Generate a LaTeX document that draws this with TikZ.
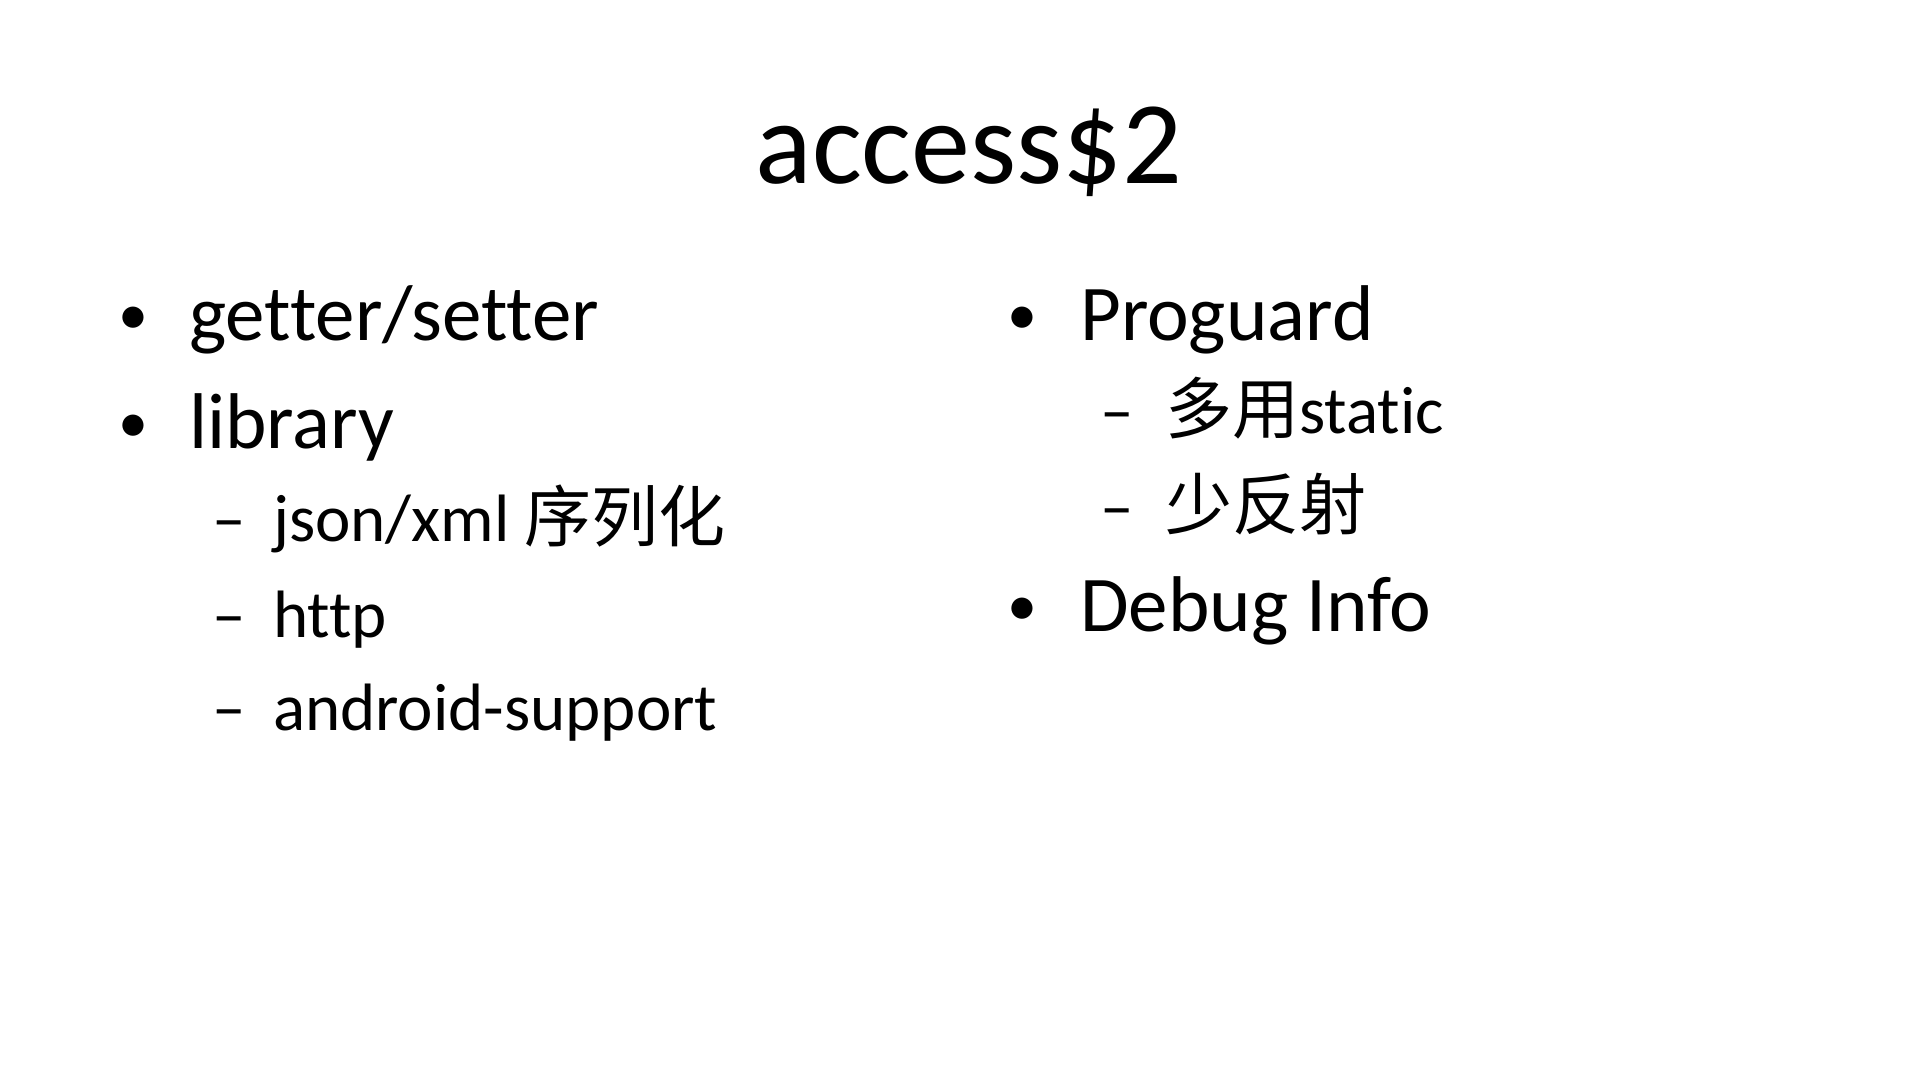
\documentclass[tikz,border=0pt]{standalone}
\usepackage{fontspec}
\setmainfont{Carlito}[Ligatures=NoCommon]
\newfontfamily\cjk{Noto Sans CJK SC}
\begin{document}
\begin{tikzpicture}[x=1pt,y=1pt,
  every node/.style={inner sep=0pt,anchor=base west},
  lvone/.style={font=\fontsize{79}{90}\selectfont},
  bul/.style={font=\fontsize{60}{70}\selectfont},
  lvtwo/.style={font=\fontsize{67}{80}\selectfont}]
\useasboundingbox (0,0) rectangle (1919,-1079);
\fill[white] (0,0) rectangle (1919,-1079);
\node[anchor=base,font=\fontsize{118}{140}\selectfont] (title) at (969,-183) {access\$2};
\node[bul] (b1) at (118,-334) {•};
\node[lvone] (t1) at (189,-340) {getter/setter};
\node[bul] (b2) at (118,-442) {•};
\node[lvone] (t2) at (189,-448) {library};
\node[lvtwo] (d1) at (212,-541) {–};
\node[lvtwo] (s1) at (273,-541) {json/xml {\cjk 序列化}};
\node[lvtwo] (d2) at (212,-637) {–};
\node[lvtwo] (s2) at (273,-637) {http};
\node[lvtwo] (d3) at (212,-730) {–};
\node[lvtwo] (s3) at (273,-730) {android-support};
\node[bul] (b3) at (1007,-334) {•};
\node[lvone] (t3) at (1080,-340) {Proguard};
\node[lvtwo] (d4) at (1100,-433) {–};
\node[lvtwo] (s4) at (1165,-433) {{\cjk 多用}static};
\node[lvtwo] (d5) at (1100,-529) {–};
\node[lvtwo] (s5) at (1165,-529) {{\cjk 少反射}};
\node[bul] (b4) at (1007,-625) {•};
\node[lvone] (t4) at (1080,-631) {Debug Info};
\end{tikzpicture}
\end{document}
